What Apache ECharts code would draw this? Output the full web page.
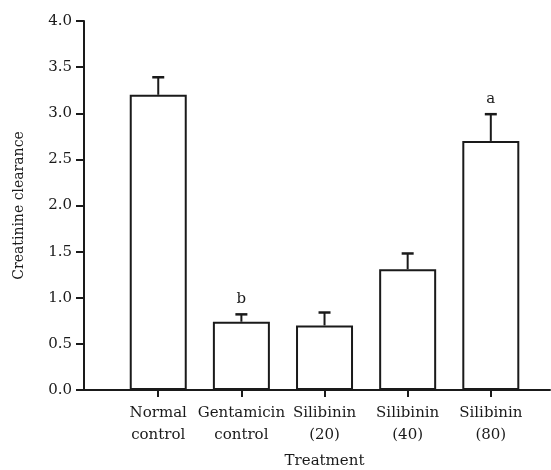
<!DOCTYPE html>
<html>
<head>
<meta charset="utf-8">
<script src="https://cdn.jsdelivr.net/npm/echarts@6/dist/echarts.min.js"></script>
<style>
  html, body { margin: 0; padding: 0; background: #fff; }
  #chart { width: 551px; height: 470px; }
</style>
</head>
<body>
<div id="chart"></div>
<script>
// data
var categories = ['Normal\ncontrol', 'Gentamicin\ncontrol', 'Silibinin\n(20)', 'Silibinin\n(40)', 'Silibinin\n(80)'];
var means = [3.20, 0.74, 0.70, 1.31, 2.70];
var errors = [0.19, 0.08, 0.14, 0.17, 0.29];
var letters = ['', 'b', '', '', 'a'];
var positions = [1, 2, 3, 4, 5];

var ink = '#1a1a1a';
var font = 'DejaVu Serif';

var myChart = echarts.init(document.getElementById('chart'));

var barData = positions.map(function (p, i) { return [p, means[i]]; });
var errData = positions.map(function (p, i) { return [p, means[i], means[i] + errors[i]]; });

var option = {
    animation: false,
    backgroundColor: '#fff',
    grid: { left: 84, right: 1, top: 21, bottom: 80, containLabel: false, outerBoundsMode: 'none' },
    xAxis: {
        type: 'value',
        min: 0.107,
        max: 5.712,
        name: 'Treatment',
        nameLocation: 'middle',
        nameGap: 64,
        nameTextStyle: { fontFamily: font, fontSize: 15, color: ink, padding: [0, 0, 0, 15] },
        splitLine: { show: false },
        axisLine: { lineStyle: { color: ink, width: 2 } },
        axisTick: { show: true, length: 7, lineStyle: { color: ink, width: 2 }, customValues: positions },
        axisLabel: {
            customValues: positions,
            margin: 12,
            lineHeight: 22,
            fontFamily: font,
            fontSize: 15,
            color: ink,
            formatter: function (v) { return categories[Math.round(v) - 1] || ''; }
        }
    },
    yAxis: {
        type: 'value',
        min: 0,
        max: 4,
        interval: 0.5,
        name: 'Creatinine clearance',
        nameLocation: 'middle',
        nameGap: 58,
        nameTextStyle: { fontFamily: font, fontSize: 14, color: ink },
        splitLine: { show: false },
        axisLine: { show: true, lineStyle: { color: ink, width: 2 } },
        axisTick: { show: true, length: 8, lineStyle: { color: ink, width: 2 } },
        axisLabel: {
            margin: 12,
            fontFamily: font,
            fontSize: 15,
            color: ink,
            formatter: function (v) { return v.toFixed(1); }
        }
    },
    series: [
        {
            type: 'bar',
            data: barData,
            barWidth: 57,
            itemStyle: { color: '#fff', borderColor: ink, borderWidth: 2 }
        },
        {
            type: 'custom',
            data: errData,
            z: 3,
            renderItem: function (params, api) {
                var base = api.coord([api.value(0), api.value(1)]);
                var top = api.coord([api.value(0), api.value(2)]);
                var label = letters[params.dataIndex];
                var children = [
                    { type: 'line', shape: { x1: base[0], y1: base[1], x2: top[0], y2: top[1] },
                      style: { stroke: ink, lineWidth: 2 } },
                    { type: 'line', shape: { x1: top[0] - 6, y1: top[1], x2: top[0] + 6, y2: top[1] },
                      style: { stroke: ink, lineWidth: 2.5 } }
                ];
                if (label) {
                    children.push({
                        type: 'text',
                        style: { text: label, x: top[0], y: top[1] - 15, align: 'center', verticalAlign: 'middle',
                                 font: '15px "' + font + '"', fill: ink }
                    });
                }
                return { type: 'group', children: children };
            }
        }
    ]
};

myChart.setOption(option);
</script>
</body>
</html>
